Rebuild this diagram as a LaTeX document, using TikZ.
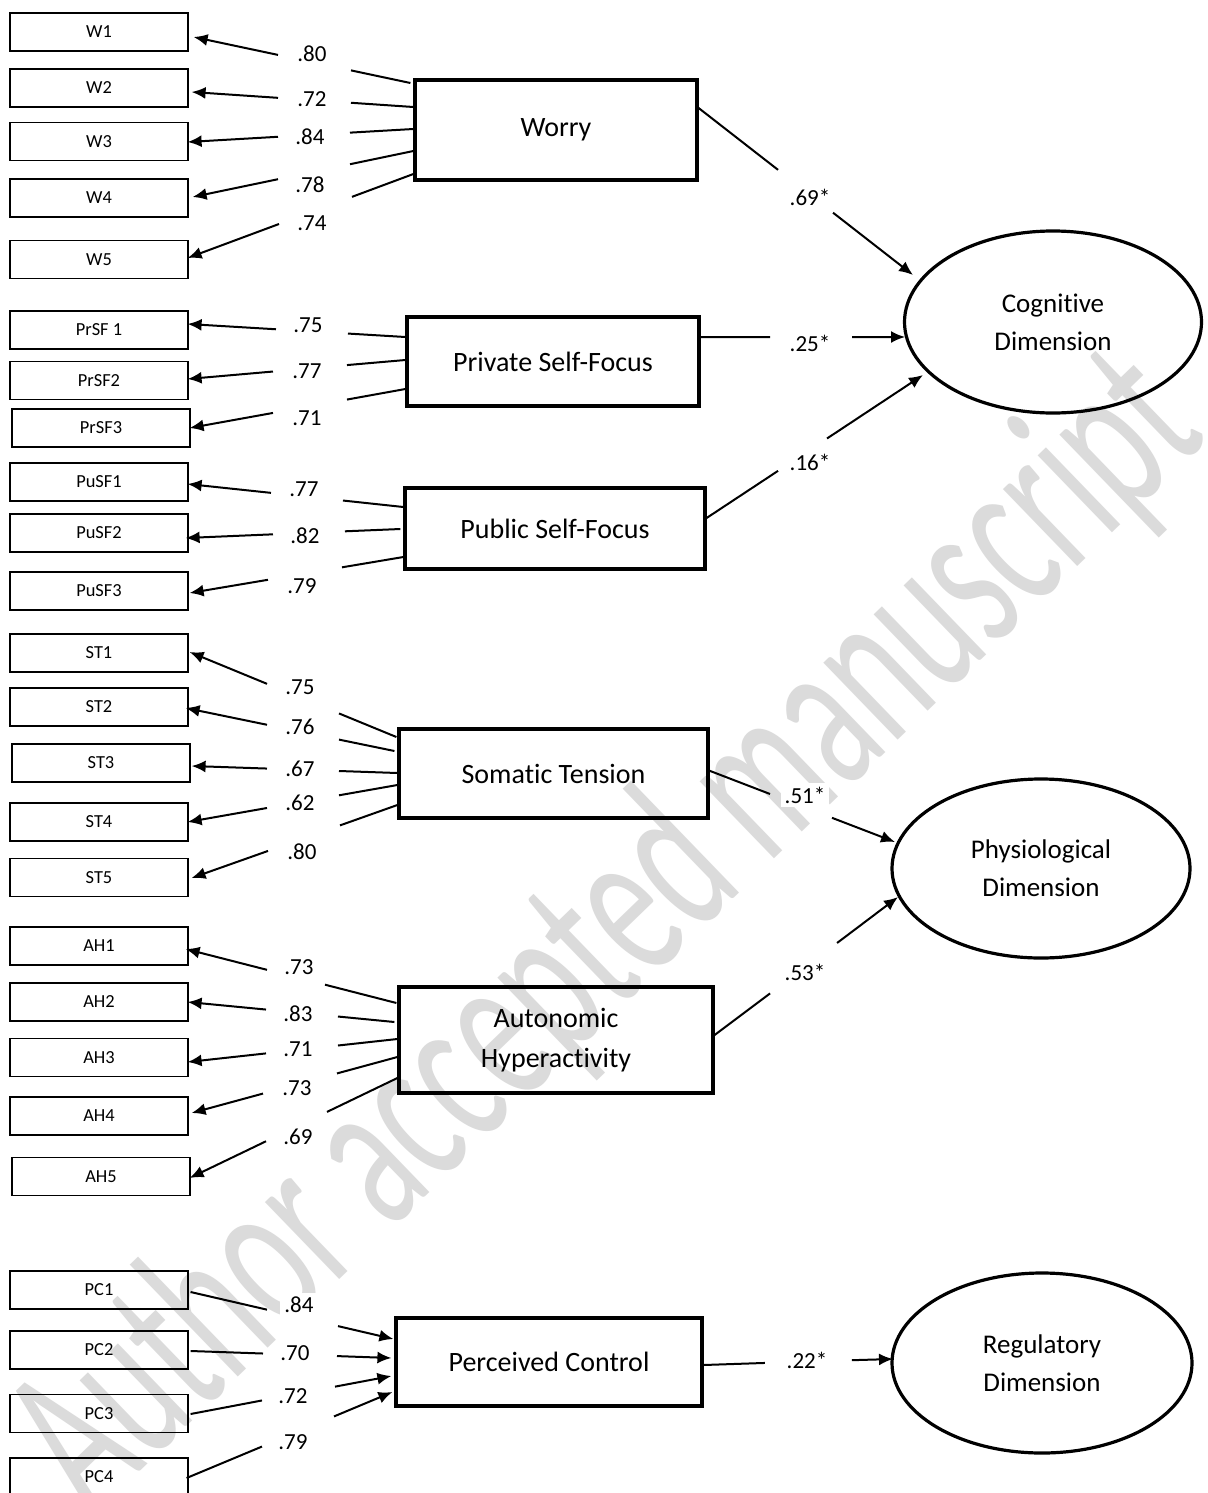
\documentclass[tikz,border=0pt]{standalone}
\usepackage{fontspec}
\setmainfont{Carlito}[Ligatures=NoCommon]
\usetikzlibrary{arrows.meta,calc,shapes.geometric}
\newcommand\gapln[6]{%
  \draw[#5] #1 -- (intersection cs: first line={#1--#2}, second line={(#3,0)--(#3,10)});
  \draw[#6] (intersection cs: first line={#1--#2}, second line={(#4,0)--(#4,10)}) -- #2;
}
\tikzset{
 ind/.style={draw, line width=0.6pt, minimum width=89pt, minimum height=19pt, inner sep=0pt, font=\fontsize{9.2}{11}\selectfont},
 fac/.style={draw, line width=1.6pt, inner sep=0pt, align=center, font=\fontsize{14}{20}\selectfont},
 lat/.style={draw, ellipse, line width=1.6pt, inner sep=0pt, align=center, font=\fontsize{13.5}{19}\selectfont},
 lbl/.style={fill=white, inner sep=2pt, font=\fontsize{11.5}{13}\selectfont},
 ln/.style={line width=1pt},
 arr/.style={line width=1pt, -{Latex[length=7pt,width=6pt]}},
 wm/.style={text=black!14, font=\fontsize{112}{112}\selectfont, xscale=0.6, inner sep=0pt}
}
\begin{document}
\begin{tikzpicture}[x=0.5pt,y=-0.5pt]
\useasboundingbox (0,0) rectangle (1208,1493);
\fill[white] (0,0) rectangle (1208,1493);
% watermark
\node[rotate=44, wm] (wmark) at (610,935) {Author accepted manuscript};
% indicators
\node[ind] (W1) at (99,32) {W1};
\node[ind] (W2) at (99,88) {W2};
\node[ind] (W3) at (99,141.5) {W3};
\node[ind] (W4) at (99,198) {W4};
\node[ind] (W5) at (99,259.5) {W5};
\node[ind] (PrSF1) at (99,330) {PrSF 1};
\node[ind] (PrSF2) at (99,380.5) {PrSF2};
\node[ind] (PrSF3) at (101,428) {PrSF3};
\node[ind] (PuSF1) at (99,482) {PuSF1};
\node[ind] (PuSF2) at (99,533) {PuSF2};
\node[ind] (PuSF3) at (99,591) {PuSF3};
\node[ind] (ST1) at (99,653) {ST1};
\node[ind] (ST2) at (99,707) {ST2};
\node[ind] (ST3) at (101,763) {ST3};
\node[ind] (ST4) at (99,822) {ST4};
\node[ind] (ST5) at (99,877.5) {ST5};
\node[ind] (AH1) at (99,946) {AH1};
\node[ind] (AH2) at (99,1002) {AH2};
\node[ind] (AH3) at (99,1057.5) {AH3};
\node[ind] (AH4) at (99,1116) {AH4};
\node[ind] (AH5) at (101,1176.5) {AH5};
\node[ind] (PC1) at (99,1290) {PC1};
\node[ind] (PC2) at (99,1350) {PC2};
\node[ind] (PC3) at (99,1413.5) {PC3};
\node[ind] (PC4) at (99,1477) {PC4};
% factors
\node[fac, minimum width=141pt, minimum height=50pt] (Worry) at (556,130) {Worry};
\node[fac, minimum width=146pt, minimum height=44.5pt] (Priv) at (553,361.5) {Private Self-Focus};
\node[fac, minimum width=150pt, minimum height=40.5pt] (Pub) at (555,528.5) {Public Self-Focus};
\node[fac, minimum width=154.5pt, minimum height=44.5pt] (Som) at (553.5,773.5) {Somatic Tension};
\node[fac, minimum width=157pt, minimum height=53pt] (Aut) at (556,1040) {Autonomic\\Hyperactivity};
\node[fac, minimum width=153pt, minimum height=44pt] (Per) at (549,1362) {Perceived Control};
% latent dimensions
\node[lat, minimum width=148.5pt, minimum height=91pt] (Cog) at (1053,322) {Cognitive\\Dimension};
\node[lat, minimum width=149pt, minimum height=89.5pt] (Phy) at (1041,868.5) {Physiological\\Dimension};
\node[lat, minimum width=150pt, minimum height=90pt] (Reg) at (1042,1363) {Regulatory\\Dimension};
% Worry loadings
\gapln{($(Worry.west)+(-3,-47)$)}{($(W1.east)+(5,5)$)}{351}{278}{ln}{arr}
\gapln{($(Worry.west)+(0,-23)$)}{($(W2.east)+(3,4)$)}{351}{278}{ln}{arr}
\gapln{($(Worry.west)+(0,-1)$)}{($(W3.east)+(-1,0.5)$)}{350}{278}{ln}{arr}
\gapln{($(Worry.west)+(0,21)$)}{($(W4.east)+(4,-1)$)}{350}{278}{ln}{arr}
\gapln{($(Worry.west)+(0,44)$)}{($(W5.east)+(-1,-1.5)$)}{352}{279}{ln}{arr}
% Private
\gapln{($(Priv.west)+(0,-24.5)$)}{($(PrSF1.east)+(-1,-6)$)}{348}{276}{ln}{arr}
\gapln{($(Priv.west)+(0,-1.5)$)}{($(PrSF2.east)+(-1,-1.5)$)}{347}{273}{ln}{arr}
\gapln{($(Priv.west)+(0,27.5)$)}{($(PrSF3.east)+(-1,0)$)}{347}{273}{ln}{arr}
% Public
\gapln{($(Pub.west)+(0,-21.5)$)}{($(PuSF1.east)+(-1,2)$)}{343}{271}{ln}{arr}
\gapln{($(Pub.west)+(-3,0.5)$)}{($(PuSF2.east)+(-3,5)$)}{345}{273}{ln}{arr}
\gapln{($(Pub.west)+(0,28.5)$)}{($(PuSF3.east)+(1,2)$)}{342}{268}{ln}{arr}
% Somatic
\gapln{($(Som.west)+(-1,-36.5)$)}{($(ST1.east)+(1,-1)$)}{339}{267}{ln}{arr}
\gapln{($(Som.west)+(-3,-22.5)$)}{($(ST2.east)+(-3,1)$)}{339}{267}{ln}{arr}
\gapln{($(Som.west)+(0,-0.5)$)}{($(ST3.east)+(1,3)$)}{339}{267}{ln}{arr}
\gapln{($(Som.west)+(0,11.5)$)}{($(ST4.east)+(-1,0)$)}{339}{267}{ln}{arr}
\gapln{($(Som.west)+(0,31.5)$)}{($(ST5.east)+(3,0.5)$)}{340}{268}{ln}{arr}
% Autonomic
\gapln{($(Aut.west)+(-1,-37)$)}{($(AH1.east)+(-3,3)$)}{325}{267}{ln}{arr}
\gapln{($(Aut.west)+(-3,-18)$)}{($(AH2.east)+(-1,0)$)}{338}{266}{ln}{arr}
\gapln{($(Aut.west)+(0,-1)$)}{($(AH3.east)+(-1,4.5)$)}{338}{266}{ln}{arr}
\gapln{($(Aut.west)+(0,17)$)}{($(AH4.east)+(3,-3)$)}{337}{263}{ln}{arr}
\gapln{($(Aut.west)+(0,38)$)}{($(AH5.east)+(-1,1.5)$)}{327}{266}{ln}{arr}
% Perceived control (indicators to factor)
\gapln{($(PC1.east)+(2,2)$)}{($(Per.west)+(-1,-23)$)}{267}{338}{ln}{arr}
\gapln{($(PC2.east)+(2,1)$)}{($(Per.west)+(-3,-4)$)}{263}{337}{ln}{arr}
\gapln{($(PC3.east)+(2,0.5)$)}{($(Per.west)+(-3,14)$)}{262}{335}{ln}{arr}
\gapln{($(PC4.east)+(-2,1)$)}{($(Per.west)+(-2,30)$)}{262}{334}{ln}{arr}
% structural paths
\gapln{($(Worry.east)+(0,-22)$)}{($(Cog.center)+(-140,-47)$)}{778}{833}{ln}{arr}
\gapln{($(Priv.east)+(-1,-24.5)$)}{($(Cog.center)+(-148,15)$)}{770}{852}{ln}{arr}
\gapln{($(Pub.east)+(0,-10.5)$)}{($(Cog.center)+(-130,53)$)}{778}{827}{ln}{arr}
\gapln{($(Som.east)+(-2,-3.5)$)}{($(Phy.center)+(-146,-26.5)$)}{770}{832}{ln}{arr}
\gapln{($(Aut.east)+(0,-5)$)}{($(Phy.center)+(-143,28.5)$)}{770}{837}{ln}{arr}
\gapln{($(Per.east)+(0,3)$)}{($(Reg.center)+(-149,-4)$)}{765}{852}{ln}{arr}
% labels
\node[lbl] (lW1) at (312,54) {.80};
\node[lbl] (lW2) at (312,99) {.72};
\node[lbl] (lW3) at (310,137) {.84};
\node[lbl] (lW4) at (310,185) {.78};
\node[lbl] (lW5) at (312,223) {.74};
\node[lbl] (lPr1) at (308,325) {.75};
\node[lbl] (lPr2) at (307,371) {.77};
\node[lbl] (lPr3) at (307,418) {.71};
\node[lbl] (lPu1) at (304,489) {.77};
\node[lbl] (lPu2) at (305,536) {.82};
\node[lbl] (lPu3) at (302,586) {.79};
\node[lbl] (lST1) at (300,687) {.75};
\node[lbl] (lST2) at (300,727) {.76};
\node[lbl] (lST3) at (300,769) {.67};
\node[lbl] (lST4) at (300,803) {.62};
\node[lbl] (lST5) at (302,852) {.80};
\node[lbl] (lAH1) at (299,967) {.73};
\node[lbl] (lAH2) at (298,1014) {.83};
\node[lbl] (lAH3) at (298,1049) {.71};
\node[lbl] (lAH4) at (297,1088) {.73};
\node[lbl] (lAH5) at (298,1137) {.69};
\node[lbl] (lPC1) at (299,1305) {.84};
\node[lbl] (lPC2) at (295,1353) {.70};
\node[lbl] (lPC3) at (293,1396) {.72};
\node[lbl] (lPC4) at (293,1442) {.79};
\node[lbl] (lS1) at (810,197) {.69*};
\node[lbl] (lS2) at (810,343) {.25*};
\node[lbl] (lS3) at (810,462) {.16*};
\node[lbl] (lS4) at (805,795) {.51*};
\node[lbl] (lS5) at (805,972) {.53*};
\node[lbl] (lS6) at (807,1360) {.22*};
\end{tikzpicture}
\end{document}
